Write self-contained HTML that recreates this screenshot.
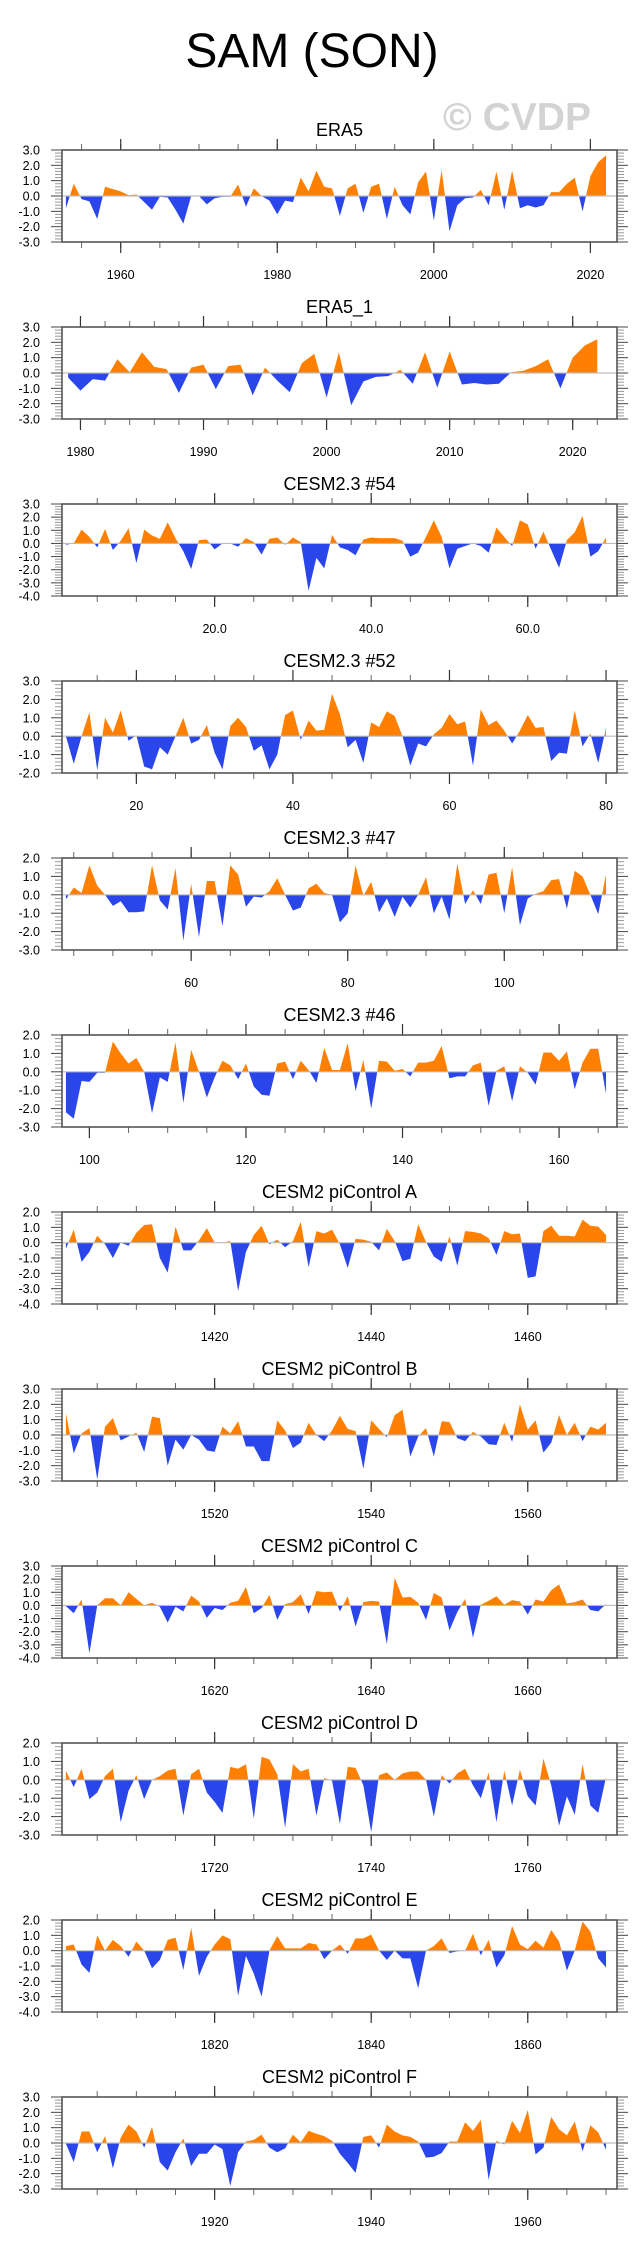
<!DOCTYPE html>
<html><head><meta charset="utf-8">
<style>
html,body{margin:0;padding:0;background:#fff;}
body{width:641px;height:2253px;overflow:hidden;font-family:"Liberation Sans",Arial,sans-serif;}
svg text{font-family:"Liberation Sans",Arial,sans-serif;}
</style></head>
<body>
<svg id="chart" width="641" height="2253" viewBox="0 0 641 2253" xmlns="http://www.w3.org/2000/svg">
<text x="312" y="67" font-size="48" text-anchor="middle" fill="#000">SAM (SON)</text>
<text x="517" y="130" font-size="39" font-weight="bold" text-anchor="middle" fill="#d3d3d3">© CVDP</text>
</svg>
<script>
const panelTitles = ["ERA5","ERA5_1","CESM2.3 #54","CESM2.3 #52","CESM2.3 #47","CESM2.3 #46","CESM2 piControl A","CESM2 piControl B","CESM2 piControl C","CESM2 piControl D","CESM2 piControl E","CESM2 piControl F"];
const firstYears = [1953,1979,1,11,44,97,1401,1501,1601,1701,1801,1901];
const yMins = [-3,-3,-4,-2,-3,-3,-4,-3,-4,-3,-4,-3];
const yMaxs = [3,3,3,3,2,2,2,3,3,2,2,3];
const xMajorTicks = [[1960,1980,2000,2020],[1980,1990,2000,2010,2020],[20,40,60],[20,40,60,80],[60,80,100],[100,120,140,160],[1420,1440,1460],[1520,1540,1560],[1620,1640,1660],[1720,1740,1760],[1820,1840,1860],[1920,1940,1960]];
const xTickLabels = [["1960","1980","2000","2020"],["1980","1990","2000","2010","2020"],["20.0","40.0","60.0"],["20","40","60","80"],["60","80","100"],["100","120","140","160"],["1420","1440","1460"],["1520","1540","1560"],["1620","1640","1660"],["1720","1740","1760"],["1820","1840","1860"],["1920","1940","1960"]];
const xMinorSteps = [5,2,5,5,5,5,5,5,5,5,5,5];

const era5Values = [-0.8,0.8,-0.2,-0.35,-1.5,0.6,0.45,0.3,0.05,0.1,
-0.4,-0.9,-0.05,-0.1,-0.9,-1.8,0.0,0.0,-0.55,-0.15,
-0.05,-0.05,0.75,-0.7,0.5,0.0,-0.3,-1.2,-0.3,-0.4,
1.2,0.3,1.65,0.6,0.5,-1.3,0.5,0.8,-1.1,0.6,
0.8,-1.5,0.6,-0.6,-1.2,0.9,1.6,-1.6,1.7,-2.3,
-0.6,-0.15,-0.1,0.4,-0.6,1.6,-0.9,1.65,-0.8,-0.6,
-0.75,-0.6,0.25,0.25,0.8,1.2,-1.0,1.3,2.2,2.65];
const era5bValues = [-0.3,-1.15,-0.4,-0.5,0.9,0.05,1.35,0.4,0.25,-1.3,
0.35,0.55,-1.05,0.45,0.55,-1.45,0.35,-0.5,-1.25,0.65,
1.25,-1.6,1.35,-2.1,-0.55,-0.25,-0.2,0.2,-0.7,1.35,
-0.95,1.4,-0.75,-0.65,-0.75,-0.7,0.05,0.15,0.45,0.9,
-1.0,1.0,1.8,2.2];
const cesm54Values = [-0.1,0.0,1.05,0.5,-0.3,1.1,-0.5,0.2,1.15,-1.5,
1.05,0.6,0.35,1.6,0.4,-0.6,-1.95,0.25,0.3,-0.45,
0.0,0.0,-0.25,0.4,0.1,-0.85,0.35,0.45,-0.1,0.45,
0.1,-3.6,-1.1,-1.9,0.65,-0.3,-0.5,-0.9,0.3,0.45,
0.4,0.4,0.4,0.2,-1.0,-0.7,0.5,1.75,0.5,-1.9,
-0.4,-0.2,0.0,-0.2,-0.7,1.2,0.5,-0.2,1.75,1.45,
-0.4,0.9,-0.5,-1.85,0.25,0.85,2.1,-1.0,-0.6,0.45];
const cesm52Values = [0.0,-1.5,0.0,1.3,-1.85,1.0,0.2,1.4,-0.25,0.05,
-1.65,-1.8,-0.6,-1.0,0.0,1.0,-0.4,-0.2,0.6,-0.9,
-1.8,0.55,1.0,0.5,-0.8,-0.5,-1.8,-1.0,1.15,1.4,
-0.2,0.85,0.3,0.35,2.3,1.2,-0.6,-0.2,-1.45,0.75,
0.5,1.35,1.1,0.0,-1.6,-0.4,-0.55,0.1,0.45,1.2,
0.65,0.8,-1.6,1.45,0.6,0.85,0.3,-0.4,0.3,1.15,
0.45,0.5,-1.35,-0.9,-0.95,1.4,-0.55,0.15,-1.45,0.45];
const cesm47Values = [-0.25,0.4,0.1,1.6,0.5,0.0,-0.6,-0.35,-0.95,-0.95,
-0.9,1.6,-0.3,-0.8,1.45,-2.5,0.6,-2.3,0.75,0.75,
-1.7,1.6,1.1,-0.65,-0.1,-0.15,0.2,0.9,0.0,-0.85,
-0.7,0.35,0.6,0.1,0.0,-1.5,-1.0,1.6,-0.05,0.7,
-0.95,-0.2,-1.2,-0.1,-0.7,0.0,0.95,-1.0,-0.1,-1.35,
1.7,-0.5,0.25,-0.5,1.1,1.2,-1.0,1.5,-1.65,-0.2,
0.05,0.2,0.8,0.85,-0.75,1.3,1.0,0.0,-1.05,1.1];
const cesm46Values = [-2.2,-2.55,-0.5,-0.55,-0.05,-0.05,1.65,1.0,0.45,0.75,
0.0,-2.25,-0.3,-0.55,1.6,-1.7,1.2,0.0,-1.4,-0.3,
0.6,0.35,-0.4,0.45,-0.8,-1.25,-1.3,0.45,0.55,-0.4,
0.6,0.1,-0.6,1.3,0.1,0.1,1.55,-1.05,0.65,-2.0,
0.6,0.55,0.05,0.15,-0.25,0.5,0.5,0.6,1.4,-0.35,
-0.25,-0.25,0.35,0.5,-1.85,0.05,0.3,-1.6,0.3,-0.05,
-0.7,1.05,1.05,0.6,1.1,-0.95,0.5,1.25,1.25,-1.2];
const ctrlAValues = [-0.4,0.85,-1.25,-0.6,0.45,-0.1,-1.0,0.0,-0.2,0.65,
1.15,1.2,-1.0,-1.95,1.05,-0.5,-0.5,0.15,0.95,0.0,
0.0,0.1,-3.15,-0.6,0.5,1.1,-0.1,0.2,-0.3,0.1,
1.35,-1.6,0.75,0.6,0.85,-0.1,-1.65,0.25,0.2,0.05,
-0.5,0.9,0.1,-1.2,-1.05,1.2,0.05,-0.9,-1.25,0.4,
-1.5,0.75,0.7,0.6,0.3,-0.8,0.75,0.55,0.6,-2.3,
-2.2,0.75,1.1,0.45,0.45,0.4,1.5,1.1,1.05,0.5];
const ctrlBValues = [1.4,-1.2,0.1,0.45,-2.9,0.55,1.1,-0.35,-0.1,0.15,
-1.1,1.2,1.1,-2.0,-0.3,-0.95,0.0,-0.3,-1.0,-1.1,
0.55,0.1,0.9,-0.75,-0.75,-1.7,-1.7,0.95,0.3,-0.85,
-0.5,0.8,0.0,-0.4,0.3,1.25,0.4,0.25,-2.2,0.95,
0.4,-0.15,1.3,1.65,-1.4,-0.1,0.45,-1.4,0.9,0.85,
-0.2,-0.4,0.2,-0.1,-0.6,-0.65,0.8,-0.45,2.0,0.35,
0.95,-1.15,-0.5,1.3,0.0,0.8,-0.4,0.55,0.35,0.8];
const ctrlCValues = [-0.05,-0.6,0.45,-3.65,0.0,0.55,0.55,0.0,1.0,0.5,
0.0,0.2,-0.1,-1.3,-0.1,-0.45,0.75,0.3,-0.95,-0.2,
-0.35,0.2,0.35,1.4,-0.6,-0.2,0.8,-1.1,0.1,0.25,
0.85,-0.65,1.1,1.0,1.05,-0.45,0.7,-1.6,0.25,0.35,
0.3,-2.95,2.1,0.6,0.65,0.2,-1.1,0.95,0.6,-1.9,
-0.5,0.5,-2.45,0.05,0.35,0.7,0.05,0.4,0.3,-0.7,
0.45,0.3,1.15,1.6,0.15,0.25,0.45,-0.35,-0.45,0.1];
const ctrlDValues = [0.5,-0.4,0.6,-1.05,-0.7,0.2,0.6,-2.3,-0.6,0.25,
-1.05,0.0,0.2,0.5,0.6,-1.95,0.3,0.6,-0.7,-1.2,
-1.8,0.7,0.6,0.85,-2.1,1.25,1.1,0.3,-2.6,0.85,
0.45,0.6,-1.95,0.1,-0.05,-2.4,0.7,0.65,-0.3,-2.85,
0.25,0.4,0.0,0.35,0.45,0.45,0.0,-2.0,0.25,-0.2,
0.35,0.6,-0.3,-1.0,0.4,-2.3,0.5,-1.4,0.55,-0.9,
-1.4,1.15,-0.3,-2.5,-0.9,-1.9,0.85,-1.4,-1.8,0.15];
const ctrlEValues = [0.3,0.4,-0.9,-1.45,1.0,0.0,0.7,0.3,-0.4,0.6,
0.0,-1.15,-0.6,0.7,0.85,-1.25,1.5,-1.65,-0.4,0.4,
1.0,0.75,-2.95,-0.35,-1.5,-3.0,0.0,0.95,0.15,0.15,
0.15,0.5,0.4,-0.55,0.0,0.4,-0.2,0.8,0.8,1.05,
0.0,-0.6,0.0,-0.5,-0.5,-2.45,0.0,0.3,0.8,-0.15,
-0.05,0.0,1.1,-0.3,0.7,-1.1,-0.3,1.6,0.4,0.1,
0.65,0.2,1.35,0.6,-1.3,0.0,1.9,1.25,-0.5,-1.1];
const ctrlFValues = [-0.05,-1.25,0.75,0.75,-0.6,0.45,-1.65,0.35,1.2,0.75,
-0.3,1.05,-1.25,-1.8,-0.6,0.3,-1.5,-0.7,-0.7,-0.1,
-0.4,-2.8,-0.6,0.1,0.2,0.55,-0.3,-0.6,-0.35,0.55,
0.05,0.8,0.6,0.45,0.15,-0.7,-1.3,-1.95,0.4,0.5,
-0.3,1.2,0.75,0.5,0.4,0.1,-0.95,-0.9,-0.65,0.1,
0.1,1.35,0.8,1.5,-2.4,0.15,-0.1,1.45,0.65,2.15,
-0.75,-0.3,1.7,0.9,0.5,1.4,-0.55,1.15,0.7,-0.45];

const allSeries = [era5Values,era5bValues,cesm54Values,cesm52Values,cesm47Values,cesm46Values,ctrlAValues,ctrlBValues,ctrlCValues,ctrlDValues,ctrlEValues,ctrlFValues];

const NS = "http://www.w3.org/2000/svg";
const svg = document.getElementById('chart');
const L = 62, R = 617, H = 92, TOP0 = 150, STEP = 177;
function mk(tag, attrs, parent){
  const e = document.createElementNS(NS, tag);
  for (const k in attrs) e.setAttribute(k, attrs[k]);
  (parent||svg).appendChild(e);
  return e;
}
function slug(s){return s.toLowerCase().replace(/[^a-z0-9]+/g,'-').replace(/^-|-$/g,'');}

allSeries.forEach((vals, p) => {
  const top = TOP0 + STEP*p, bot = top + H;
  const n = vals.length;
  const x0 = firstYears[p] - 0.5;
  const x1 = firstYears[p] + n - 1 + (p === 1 ? 1.6 : 1.4);
  const xs = v => L + (v - x0) / (x1 - x0) * (R - L);
  const ys = v => bot - (v - yMins[p]) / (yMaxs[p] - yMins[p]) * H;
  const nm = slug(panelTitles[p]);
  const g = mk('g', {});
  
  

  const title = mk('text', {x: 339.5, y: top - 14, 'font-size': 18, 'text-anchor': 'middle', fill: '#000'}, g);
  
  
  title.textContent = panelTitles[p];

  // clip paths
  const defs = mk('defs', {}, g);
  const cpUp = mk('clipPath', {id: 'up' + p}, defs);
  mk('rect', {x: L, y: top, width: R - L, height: ys(0) - top}, cpUp);
  const cpDn = mk('clipPath', {id: 'dn' + p}, defs);
  mk('rect', {x: L, y: ys(0), width: R - L, height: bot - ys(0)}, cpDn);

  let d = 'M' + xs(firstYears[p]).toFixed(2) + ',' + ys(0).toFixed(2);
  vals.forEach((v, i) => { d += ' L' + xs(firstYears[p] + i).toFixed(2) + ',' + ys(v).toFixed(2); });
  d += ' L' + xs(firstYears[p] + n - 1).toFixed(2) + ',' + ys(0).toFixed(2) + ' Z';
  const pos = mk('path', {d: d, fill: '#ff8000', 'clip-path': 'url(#up' + p + ')'}, g);
  
  
  const neg = mk('path', {d: d, fill: '#2a46ea', 'clip-path': 'url(#dn' + p + ')'}, g);
  
  

  const zl = mk('line', {x1: L, x2: R, y1: ys(0), y2: ys(0), stroke: '#bdbdbd', 'stroke-width': 1.2}, g);
  
  

  // y ticks
  for (let k = Math.round(yMins[p]*5); k <= Math.round(yMaxs[p]*5); k++) {
    const v = k / 5, y = ys(v), major = (k % 5 === 0);
    const len = major ? 11 : 7;
    mk('line', {x1: L - len, x2: L, y1: y, y2: y, stroke: major ? '#444' : '#999', 'stroke-width': 1}, g);
    mk('line', {x1: R, x2: R + len, y1: y, y2: y, stroke: major ? '#444' : '#999', 'stroke-width': 1}, g);
    if (major) {
      const t = mk('text', {x: 40, y: y + 4.5, 'font-size': 12.5, 'text-anchor': 'end', fill: '#000'}, g);
      
      
      t.textContent = v.toFixed(1);
    }
  }
  // x minor ticks
  const ms = xMinorSteps[p];
  for (let v = Math.ceil(x0 / ms) * ms; v <= x1; v += ms) {
    const x = xs(v);
    mk('line', {x1: x, x2: x, y1: bot, y2: bot + 6, stroke: '#666', 'stroke-width': 1}, g);
    mk('line', {x1: x, x2: x, y1: top, y2: top - 6, stroke: '#666', 'stroke-width': 1}, g);
  }
  xMajorTicks[p].forEach((v, i) => {
    const x = xs(v);
    mk('line', {x1: x, x2: x, y1: bot, y2: bot + 11, stroke: '#333', 'stroke-width': 1.2}, g);
    mk('line', {x1: x, x2: x, y1: top, y2: top - 11, stroke: '#333', 'stroke-width': 1.2}, g);
    const t = mk('text', {x: x, y: bot + 37, 'font-size': 12.5, 'text-anchor': 'middle', fill: '#000'}, g);
    
    
    t.textContent = xTickLabels[p][i];
  });
  const fr = mk('rect', {x: L, y: top, width: R - L, height: H, fill: 'none', stroke: '#555', 'stroke-width': 1.6}, g);
  
  
});
</script>
</body></html>
